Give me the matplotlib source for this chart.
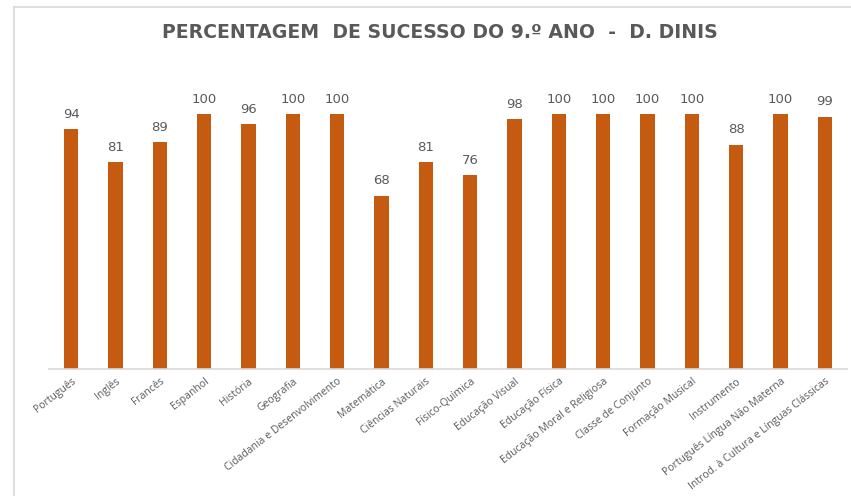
import matplotlib
matplotlib.use("Agg")
import matplotlib.pyplot as plt
from matplotlib.lines import Line2D

categories = ["Português", "Inglês", "Francês", "Espanhol", "História", "Geografia",
              "Cidadania e Desenvolvimento", "Matemática", "Ciências Naturais",
              "Físico-Química", "Educação Visual", "Educação Física",
              "Educação Moral e Religiosa", "Classe de Conjunto", "Formação Musical",
              "Instrumento", "Português Língua Não Materna",
              "Introd. à Cultura e Línguas Clássicas"]
values = [94, 81, 89, 100, 96, 100, 100, 68, 81, 76, 98, 100, 100, 100, 100, 88, 100, 99]
title = "PERCENTAGEM  DE SUCESSO DO 9.º ANO  -  D. DINIS"

plt.rcParams['font.family'] = ['Open Sans', 'DejaVu Sans']

W, H = 851, 496
fig = plt.figure(figsize=(W / 100, H / 100), dpi=100)
left, right, bottom, top = 49, 847, 369, 63
ax = fig.add_axes([left / W, 1 - bottom / H, (right - left) / W, (bottom - top) / H])

x = list(range(len(categories)))
ax.bar(x, values, width=0.32, color="#C55A11")
ax.set_xlim(-0.5, len(categories) - 0.5)
ax.set_ylim(0, 120)
for xi, v in zip(x, values):
    ax.text(xi, v + 3.2, f"{v}", ha="center", va="bottom", fontsize=9.5,
            color="#595959", family=["DejaVu Sans"])

for s in ["top", "right", "left"]:
    ax.spines[s].set_visible(False)
ax.spines["bottom"].set_color("#D9D9D9")
ax.spines["bottom"].set_linewidth(1.2)
ax.set_yticks([])
ax.set_xticks(x)
ax.set_xticklabels(categories, rotation=38, ha="right", rotation_mode="anchor",
                   fontsize=7.5, color="#595959")
ax.tick_params(axis="x", length=0, pad=5)

fig.text(440 / W, 1 - 32 / H, title, ha="center", va="center", fontsize=13.6,
         fontweight="bold", color="#595959", family=["DejaVu Sans"])

# chart area border (left and top edges visible)
fig.add_artist(Line2D([14 / W, 14 / W], [0, 1 - 7 / H], transform=fig.transFigure,
                      color="#D9D9D9", lw=1.2))
fig.add_artist(Line2D([14 / W, 1], [1 - 7 / H, 1 - 7 / H], transform=fig.transFigure,
                      color="#D9D9D9", lw=1.2))

fig.savefig("out.png", dpi=100)
